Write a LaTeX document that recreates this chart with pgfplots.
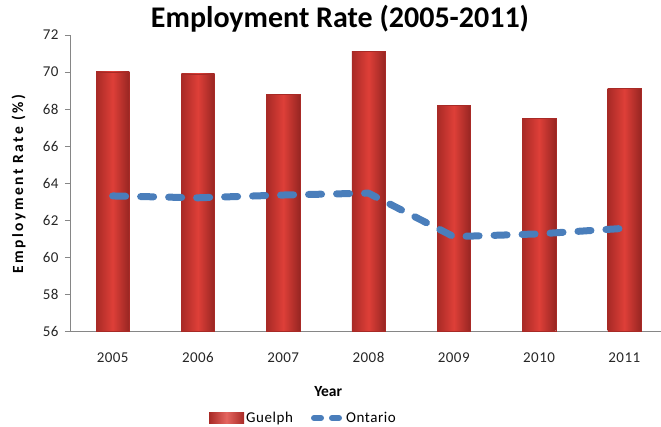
\documentclass[border=0pt]{standalone}
\usepackage{pgfplots}
\pgfplotsset{compat=1.18}
\usepackage{fontspec}
\setmainfont{Carlito}
\definecolor{barmid}{HTML}{DE3F38}
\definecolor{baredge}{HTML}{A82A26}
\definecolor{ontblue}{HTML}{4A7EBB}
\definecolor{axgray}{HTML}{868686}
\pgfplotsset{gbar/.style={ybar, bar width=0.39, draw=baredge, line width=0.3pt,
  left color=baredge, right color=baredge!90!black, middle color=barmid}}
\begin{document}
\begin{tikzpicture}
\begin{axis}[
  at={(0,0)}, anchor=south west,
  scale only axis,
  width=591pt, height=296pt,
  xmin=-0.5, xmax=6.43,
  ymin=56, ymax=72,
  ytick={56,58,...,72},
  xtick={0,...,6},
  xticklabels={2005,2006,2007,2008,2009,2010,2011},
  x tick style={draw=none},
  extra x ticks={0.5,1.5,2.5,3.5,4.5,5.5},
  extra x tick labels={},
  extra x tick style={major tick length=5pt, tick style={draw=axgray}},
  axis x line*=bottom, axis y line*=left,
  axis line style={draw=axgray, line width=0.8pt, -},
  tick align=outside,
  y tick style={draw=axgray, line width=0.8pt},
  major tick length=5pt,
  /pgf/number format/assume math mode=true,
  tick label style={font=\fontsize{15}{18}\selectfont\addfontfeatures{LetterSpace=3}, text=black!85},
  yticklabel style={xshift=-3pt},
  xticklabel style={anchor=base, yshift=-27pt},
  ylabel={\textbf{Employment Rate (\%)}},
  ylabel style={font=\fontsize{15.5}{18}\selectfont\addfontfeatures{LetterSpace=16}, at={(axis description cs:-0.087,0.5)}, anchor=center},
  xlabel={\textbf{Year}},
  xlabel style={font=\fontsize{15.5}{18}\selectfont, at={(axis description cs:0.437,-0.206)}, anchor=center},
  legend style={draw=none, at={(0.395,-0.294)}, anchor=center, legend columns=2,
    font=\fontsize{15}{18}\selectfont\addfontfeatures{LetterSpace=4},
    /tikz/every even column/.append style={column sep=16pt}},
  clip=false,
]
\addplot[gbar,
  legend image code/.code={\shade[left color=baredge, right color=baredge, middle color=barmid!80!white, draw=none] (-8pt,-5.5pt) rectangle (27pt,5.5pt);}]
coordinates {(0,70.0)};
\addlegendentry{Guelph}
\addplot[gbar, forget plot] coordinates {(1,69.9)};
\addplot[gbar, forget plot] coordinates {(2,68.8)};
\addplot[gbar, forget plot] coordinates {(3,71.1)};
\addplot[gbar, forget plot] coordinates {(4,68.2)};
\addplot[gbar, forget plot] coordinates {(5,67.5)};
\addplot[gbar, forget plot] coordinates {(6,69.1)};
\addplot[ontblue, line width=7pt, line cap=round, line join=round, dash pattern=on 13pt off 15pt, mark=none,
  legend image code/.code={\draw[ontblue, line width=6pt, line cap=round, dash pattern=on 7pt off 11pt] (-2pt,0pt) -- (25pt,0pt);}]
coordinates {(0,63.3) (1,63.2) (2,63.35) (3,63.45) (4,61.1) (5,61.25) (6,61.55)};
\addlegendentry{Ontario}
\end{axis}
\node[font=\fontsize{30}{34}\selectfont\bfseries] at (270pt,312pt) {Employment Rate (2005-2011)};
\pgfresetboundingbox
\path[use as bounding box] (-70pt,-96pt) rectangle (591pt,331pt);
\end{tikzpicture}
\end{document}
